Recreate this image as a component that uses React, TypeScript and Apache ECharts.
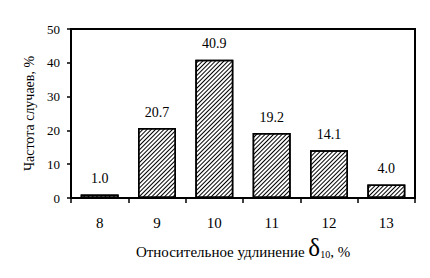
import React, { useEffect, useRef } from "react";
import * as echarts from "echarts";

const categories = ["8", "9", "10", "11", "12", "13"];
const values = [1.0, 20.7, 40.9, 19.2, 14.1, 4.0];
const yTicks = { min: 0, max: 50, interval: 10 };

export default function App() {
  const ref = useRef<HTMLDivElement>(null);
  useEffect(() => {
    const chart = echarts.init(ref.current!, null, { renderer: "svg" });
    const font = "Liberation Serif";
    chart.setOption({
      animation: false,
      backgroundColor: "#fff",
      textStyle: { fontFamily: font },
      grid: {
        left: 71,
        top: 29,
        right: 15,
        bottom: 80,
        show: true,
        borderColor: "#000",
        borderWidth: 2,
        backgroundColor: "transparent",
      },
      xAxis: {
        type: "category",
        data: categories,
        axisLine: { lineStyle: { color: "#000", width: 2 } },
        axisTick: { show: true, length: 5, lineStyle: { color: "#000", width: 1.5 } },
        axisLabel: { color: "#000", fontFamily: font, fontSize: 15, margin: 17 },
        name: "{a|Относительное удлинение }{d|δ}{s|10}{a|, %}",
        nameLocation: "middle",
        nameGap: 34,
        nameTextStyle: {
          fontFamily: font,
          rich: {
            a: { fontFamily: font, fontSize: 15, color: "#000", verticalAlign: "bottom", lineHeight: 26 },
            d: { fontFamily: font, fontSize: 25, color: "#000", verticalAlign: "bottom", lineHeight: 26 },
            s: { fontFamily: font, fontSize: 10, color: "#000", verticalAlign: "bottom", lineHeight: 22 },
          },
        },
      },
      yAxis: {
        type: "value",
        min: yTicks.min,
        max: yTicks.max,
        interval: yTicks.interval,
        splitLine: { show: false },
        axisLine: { show: true, lineStyle: { color: "#000", width: 2 } },
        axisTick: { show: true, length: 4, lineStyle: { color: "#000", width: 1.5 } },
        axisLabel: { color: "#000", fontFamily: font, fontSize: 13, margin: 11 },
        name: "Частота случаев, %",
        nameLocation: "middle",
        nameGap: 34,
        nameTextStyle: { fontFamily: font, fontSize: 14, color: "#000" },
      },
      series: [
        {
          type: "bar",
          data: values,
          barWidth: 38,
          itemStyle: {
            color: "#fff",
            borderColor: "#000",
            borderWidth: 1.5,
            decal: {
              symbol: "rect",
              symbolSize: 1,
              color: "#000",
              backgroundColor: "#fff",
              dashArrayX: [1, 0],
              dashArrayY: [1, 2],
              rotation: -Math.PI / 4,
            },
          },
          label: {
            show: true,
            position: "top",
            distance: 9,
            color: "#000",
            fontFamily: font,
            fontSize: 14,
            formatter: (p: any) => Number(p.value).toFixed(1),
          },
        },
      ],
    });
    return () => chart.dispose();
  }, []);
  return <div ref={ref} style={{ width: 430, height: 278, position: "absolute", left: 0, top: 0 }} />;
}
